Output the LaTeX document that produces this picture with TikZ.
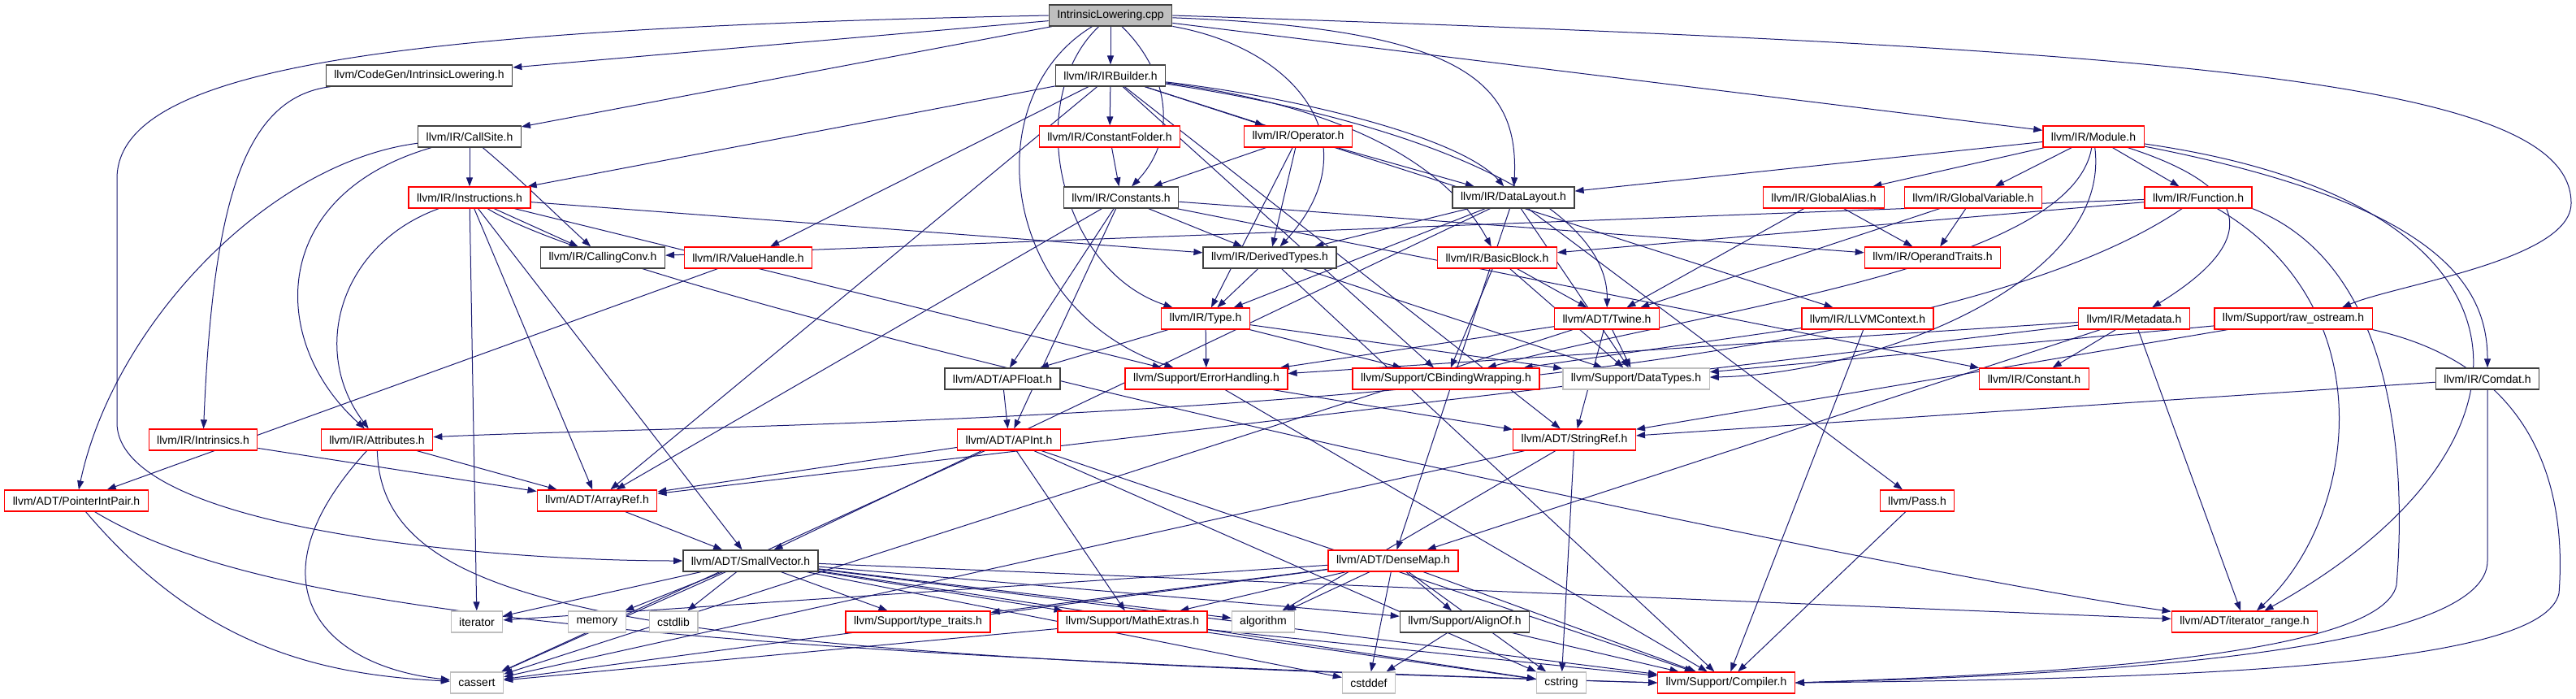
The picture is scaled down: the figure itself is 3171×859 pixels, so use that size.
\documentclass[tikz,border=0pt]{standalone}
\usepackage{fontspec}
\setmainfont{Liberation Sans}
\usetikzlibrary{arrows.meta,backgrounds}

\definecolor{edgeblue}{HTML}{191970}
\definecolor{boxgrey}{HTML}{BFBFBF}

\begin{document}
\begin{tikzpicture}[x=1pt,y=-1pt,>={Triangle[length=11pt,width=8pt]},
  file/.style={draw,line width=1.3pt,minimum height=26pt,inner xsep=10pt,inner ysep=0pt,
    font=\fontsize{14}{16}\selectfont,fill=white},
  redfile/.style={file,draw=red},
  blkfile/.style={file,draw=black!75},
  sysfile/.style={file,draw=boxgrey},
  edge/.style={->,draw=edgeblue,line width=1pt}]
  \useasboundingbox (0,0) rectangle (3171,859);

  % files
  \node[file,fill=boxgrey,draw=black!75] (root) at (1367,19) {IntrinsicLowering.cpp};
  \node[blkfile] (codegenIL) at (516,93) {llvm/CodeGen/IntrinsicLowering.h};
  \node[blkfile] (irBuilder) at (1367,93) {llvm/IR/IRBuilder.h};
  \node[blkfile] (callSite) at (578,168) {llvm/IR/CallSite.h};
  \node[redfile] (constantFolder) at (1366,168) {llvm/IR/ConstantFolder.h};
  \node[redfile] (operatorH) at (1598,168) {llvm/IR/Operator.h};
  \node[redfile] (module) at (2577,168) {llvm/IR/Module.h};
  \node[redfile] (instructions) at (578,243) {llvm/IR/Instructions.h};
  \node[blkfile] (constants) at (1380,243) {llvm/IR/Constants.h};
  \node[blkfile] (dataLayout) at (1863,243) {llvm/IR/DataLayout.h};
  \node[redfile] (globalAlias) at (2245,243) {llvm/IR/GlobalAlias.h};
  \node[redfile] (globalVariable) at (2429,243) {llvm/IR/GlobalVariable.h};
  \node[redfile] (function) at (2706,243) {llvm/IR/Function.h};
  \node[blkfile] (callingConv) at (742,317) {llvm/IR/CallingConv.h};
  \node[redfile] (valueHandle) at (921,317) {llvm/IR/ValueHandle.h};
  \node[blkfile] (derivedTypes) at (1563,317) {llvm/IR/DerivedTypes.h};
  \node[redfile] (basicBlock) at (1843,317) {llvm/IR/BasicBlock.h};
  \node[redfile] (operandTraits) at (2379,317) {llvm/IR/OperandTraits.h};
  \node[redfile] (typeH) at (1484,392) {llvm/IR/Type.h};
  \node[redfile] (twine) at (1978,392) {llvm/ADT/Twine.h};
  \node[redfile] (llvmContext) at (2299,392) {llvm/IR/LLVMContext.h};
  \node[redfile] (metadata) at (2627,392) {llvm/IR/Metadata.h};
  \node[redfile] (rawOstream) at (2823,392) {llvm/Support/raw\_ostream.h};
  \node[blkfile] (apFloat) at (1234,466) {llvm/ADT/APFloat.h};
  \node[redfile] (errorHandling) at (1485,466) {llvm/Support/ErrorHandling.h};
  \node[redfile] (cbinding) at (1780,466) {llvm/Support/CBindingWrapping.h};
  \node[sysfile] (dataTypes) at (2014,466) {llvm/Support/DataTypes.h};
  \node[redfile] (constant) at (2504,466) {llvm/IR/Constant.h};
  \node[blkfile] (comdat) at (3062,466) {llvm/IR/Comdat.h};
  \node[redfile] (intrinsics) at (250,541) {llvm/IR/Intrinsics.h};
  \node[redfile] (attributes) at (464,541) {llvm/IR/Attributes.h};
  \node[redfile] (apInt) at (1242,541) {llvm/ADT/APInt.h};
  \node[redfile] (stringRef) at (1938,541) {llvm/ADT/StringRef.h};
  \node[redfile] (pointerIntPair) at (94,616) {llvm/ADT/PointerIntPair.h};
  \node[redfile] (arrayRef) at (735,616) {llvm/ADT/ArrayRef.h};
  \node[redfile] (pass) at (2360,616) {llvm/Pass.h};
  \node[blkfile] (smallVector) at (924,690) {llvm/ADT/SmallVector.h};
  \node[redfile] (denseMap) at (1715,690) {llvm/ADT/DenseMap.h};
  \node[sysfile] (iterator) at (587,765) {iterator};
  \node[sysfile] (memory) at (735,765) {memory};
  \node[sysfile] (cstdlib) at (829,765) {cstdlib};
  \node[redfile] (typeTraits) at (1130,765) {llvm/Support/type\_traits.h};
  \node[redfile] (mathExtras) at (1394,765) {llvm/Support/MathExtras.h};
  \node[sysfile] (algorithm) at (1555,765) {algorithm};
  \node[blkfile] (alignOf) at (1803,765) {llvm/Support/AlignOf.h};
  \node[redfile] (iteratorRange) at (2763,765) {llvm/ADT/iterator\_range.h};
  \node[sysfile] (cassert) at (587,840) {cassert};
  \node[sysfile] (cstddef) at (1685,840) {cstddef};
  \node[sysfile] (cstring) at (1922,840) {cstring};
  \node[redfile] (compiler) at (2125,840) {llvm/Support/Compiler.h};

  \begin{scope}[on background layer]
  % includes
  \foreach \a/\b in {root/codegenIL,root/callSite,root/irBuilder,root/module,
      intrinsics/arrayRef,callSite/instructions,
      instructions/callingConv,instructions/derivedTypes,instructions/arrayRef,
      instructions/smallVector,instructions/iterator,instructions/errorHandling,
      irBuilder/constantFolder,irBuilder/operatorH,irBuilder/instructions,
      irBuilder/valueHandle,irBuilder/arrayRef,
      irBuilder/llvmContext,irBuilder/cbinding,irBuilder/stringRef,
      constantFolder/constants,
      operatorH/constants,operatorH/dataLayout,operatorH/derivedTypes,operatorH/typeH,
      constants/derivedTypes,constants/operandTraits,constants/constant,
      constants/apFloat,constants/apInt,constants/arrayRef,
      valueHandle/pointerIntPair,
      derivedTypes/typeH,derivedTypes/dataTypes,derivedTypes/compiler,
      typeH/apFloat,typeH/errorHandling,typeH/cbinding,typeH/dataTypes,
      dataLayout/derivedTypes,dataLayout/typeH,dataLayout/smallVector,
      dataLayout/denseMap,dataLayout/pass,dataLayout/dataTypes,
      basicBlock/twine,basicBlock/cbinding,basicBlock/dataTypes,
      twine/stringRef,twine/dataTypes,twine/errorHandling,twine/cassert,
      globalAlias/twine,globalAlias/operandTraits,
      globalVariable/twine,globalVariable/operandTraits,
      module/dataLayout,module/globalAlias,module/globalVariable,module/function,
      function/callingConv,function/basicBlock,
      llvmContext/cbinding,llvmContext/compiler,
      metadata/constant,metadata/iteratorRange,metadata/arrayRef,
      metadata/denseMap,metadata/errorHandling,
      rawOstream/stringRef,rawOstream/dataTypes,comdat/stringRef,pass/compiler,
      attributes/arrayRef,apFloat/apInt,arrayRef/smallVector,
      apInt/arrayRef,apInt/mathExtras,apInt/cassert,apInt/cstring,apInt/compiler,
      errorHandling/stringRef,errorHandling/compiler,
      stringRef/algorithm,stringRef/cassert,stringRef/cstring,
      smallVector/iterator,smallVector/memory,smallVector/cstdlib,
      smallVector/typeTraits,smallVector/mathExtras,smallVector/algorithm,
      smallVector/alignOf,smallVector/cassert,smallVector/cstddef,
      smallVector/cstring,smallVector/compiler,smallVector/iteratorRange,
      denseMap/iterator,denseMap/typeTraits,denseMap/mathExtras,denseMap/algorithm,
      denseMap/alignOf,denseMap/cassert,denseMap/cstddef,denseMap/cstring,
      denseMap/compiler,
      mathExtras/cassert,mathExtras/cstring,mathExtras/compiler,
      alignOf/cstddef,alignOf/compiler}
    \draw[edge] (\a) -- (\b);

  % bent ones
  \draw[edge] (root.west) .. controls (500,35) and (144,80) .. (144,220) -- (144,520)
    .. controls (144,650) and (600,690) .. (smallVector.west);
  \draw[edge] (root.east) .. controls (2700,60) and (3165,100) .. (3165,250)
    .. controls (3165,320) and (2950,350) .. ([xshift=60pt]rawOstream.north);
  \draw[edge] (root) .. controls (1440,90) and (1450,170) .. (constants);
  \draw[edge] (root) .. controls (1800,35) and (1870,100) .. (dataLayout);
  \draw[edge] (root) .. controls (1600,60) and (1690,180) .. (derivedTypes);
  \draw[edge] (root) .. controls (1260,120) and (1300,330) .. (typeH);
  \draw[edge] (root) .. controls (1200,120) and (1230,380) .. (errorHandling);
  \draw[edge] (irBuilder) .. controls (1600,120) and (1800,170) .. (dataLayout);
  \draw[edge] (irBuilder) .. controls (1650,130) and (1780,200) .. (basicBlock);
  \draw[edge] (irBuilder) .. controls (1750,150) and (1980,250) .. (twine);
  \draw[edge] (codegenIL) .. controls (300,120) and (262,250) .. (intrinsics);
  \draw[edge] (callSite) .. controls (330,200) and (140,400) .. (pointerIntPair);
  \draw[edge] (callSite) .. controls (330,240) and (330,420) .. (attributes);
  \draw[edge] (callSite) .. controls (640,220) and (680,260) .. (callingConv);
  \draw[edge] (instructions) .. controls (420,300) and (380,430) .. (attributes);
  \draw[edge] (instructions) .. controls (800,380) and (2300,700) .. (iteratorRange);
  \draw[edge] (module) .. controls (2550,330) and (2100,380) .. (cbinding);
  \draw[edge] (module) .. controls (2600,350) and (2300,460) .. (dataTypes);
  \draw[edge] (module) .. controls (3000,250) and (3062,350) .. (comdat);
  \draw[edge] (module) .. controls (3150,250) and (3150,550) .. (iteratorRange);
  \draw[edge] (module) .. controls (2800,240) and (2760,310) .. (metadata);
  \draw[edge] (function) .. controls (2940,380) and (2900,640) .. (iteratorRange);
  \draw[edge] (function) .. controls (2300,520) and (900,520) .. (attributes);
  \draw[edge] (function.south east) .. controls (2960,330) and (2960,600) .. (2950,720)
    .. controls (2930,810) and (2500,830) .. (compiler.east);
  \draw[edge] (comdat.south) -- (3062,690) .. controls (3062,800) and (2600,830) .. (compiler.east);
  \draw[edge] (rawOstream.south east) .. controls (3120,450) and (3160,600) .. (3150,730)
    .. controls (3130,820) and (2700,835) .. (compiler.east);
  \draw[edge] (pointerIntPair) .. controls (250,800) and (400,830) .. (cassert);
  \draw[edge] (pointerIntPair) .. controls (300,740) and (700,800) .. (compiler.west);
  \draw[edge] (attributes) .. controls (300,720) and (400,820) .. (cassert);
  \draw[edge] (attributes) .. controls (470,760) and (800,805) .. (compiler.west);
  \end{scope}
\end{tikzpicture}
\end{document}
